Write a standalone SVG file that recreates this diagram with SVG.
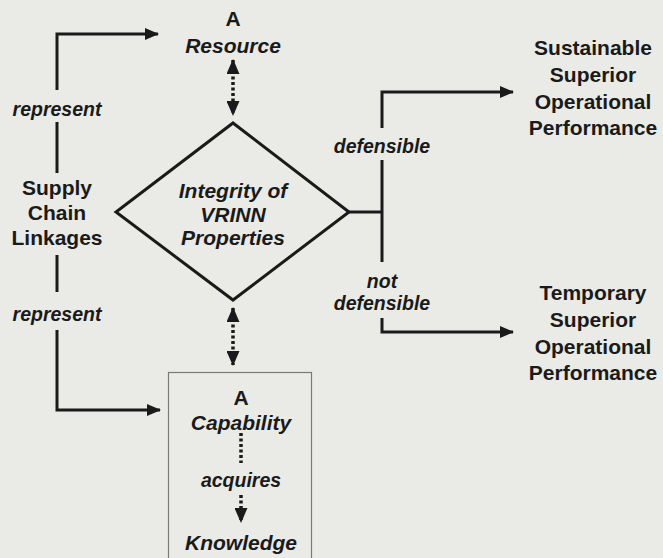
<svg xmlns="http://www.w3.org/2000/svg" width="663" height="558" viewBox="0 0 663 558">
<style>
.t{font-family:"Liberation Sans",Arial,sans-serif;font-weight:bold;font-size:21px;fill:#1a1a1a;text-anchor:middle}
.i{font-style:italic}
.l{font-family:"Liberation Sans",Arial,sans-serif;font-weight:bold;font-style:italic;font-size:19.5px;fill:#1a1a1a;text-anchor:middle}
.ln{fill:none;stroke:#1a1a1a;stroke-width:3}
.dot{fill:none;stroke:#1a1a1a;stroke-width:3.5;stroke-dasharray:3 2.5}
.ah{fill:#1a1a1a}
</style>
<defs>
<marker id="arr" viewBox="0 0 14 12" refX="13" refY="6" markerWidth="14" markerHeight="12" markerUnits="userSpaceOnUse" orient="auto">
<path d="M0,0 L14,6 L0,12 Z" class="ah"/>
</marker>
<marker id="arrd" viewBox="0 0 15 13" refX="14" refY="6.5" markerWidth="15" markerHeight="13" markerUnits="userSpaceOnUse" orient="auto-start-reverse">
<path d="M0,0 L15,6.5 L0,13 Z" class="ah"/>
</marker>
</defs>
<rect width="663" height="558" fill="#eaeae7"/>

<g id="connectors">
<path class="ln" d="M57,90 V34 H158" marker-end="url(#arr)"/>
<path class="ln" d="M57,122 V173"/>
<path class="ln" d="M57,255 V292"/>
<path class="ln" d="M57,330 V410 H160" marker-end="url(#arr)"/>
<path class="dot" d="M233,60 V115" marker-start="url(#arrd)" marker-end="url(#arrd)"/>
<path class="dot" d="M233,308 V365" marker-start="url(#arrd)" marker-end="url(#arrd)"/>
<path class="ln" d="M348,212 H382"/>
<path class="ln" d="M382,128 V92 H513" marker-end="url(#arr)"/>
<path class="ln" d="M382,160 V262"/>
<path class="ln" d="M382,318 V332 H513" marker-end="url(#arr)"/>
<path class="dot" d="M241,433 V463"/>
<path class="dot" d="M241,495 V522" marker-end="url(#arrd)"/>
</g>

<g id="resource">
<text class="t" x="233" y="26">A</text>
<text class="t i" x="233" y="53">Resource</text>
</g>

<g id="supply-chain">
<text class="l" x="57" y="116">represent</text>
<text class="t" x="57" y="195">Supply</text>
<text class="t" x="57" y="220">Chain</text>
<text class="t" x="57" y="245">Linkages</text>
<text class="l" x="57" y="321">represent</text>
</g>

<g id="vrinn">
<path class="ln" d="M233,123 L349,212 L233,300 L116,212 Z"/>
<text class="t i" x="233" y="198">Integrity of</text>
<text class="t i" x="233" y="222">VRINN</text>
<text class="t i" x="233" y="245">Properties</text>
</g>

<g id="capability">
<rect x="168.5" y="372.5" width="143" height="200" fill="none" stroke="#7a7a7a" stroke-width="1.2"/>
<text class="t" x="241" y="405">A</text>
<text class="t i" x="241" y="430">Capability</text>
<text class="l" x="241" y="487">acquires</text>
<text class="t i" x="241" y="550">Knowledge</text>
</g>

<g id="defensible-labels">
<text class="l" x="382" y="153">defensible</text>
<text class="l" x="382" y="288">not</text>
<text class="l" x="382" y="310">defensible</text>
</g>

<g id="sustainable">
<text class="t" x="593" y="55">Sustainable</text>
<text class="t" x="593" y="82">Superior</text>
<text class="t" x="593" y="109">Operational</text>
<text class="t" x="593" y="135">Performance</text>
</g>

<g id="temporary">
<text class="t" x="593" y="300">Temporary</text>
<text class="t" x="593" y="327">Superior</text>
<text class="t" x="593" y="354">Operational</text>
<text class="t" x="593" y="380">Performance</text>
</g>
</svg>
